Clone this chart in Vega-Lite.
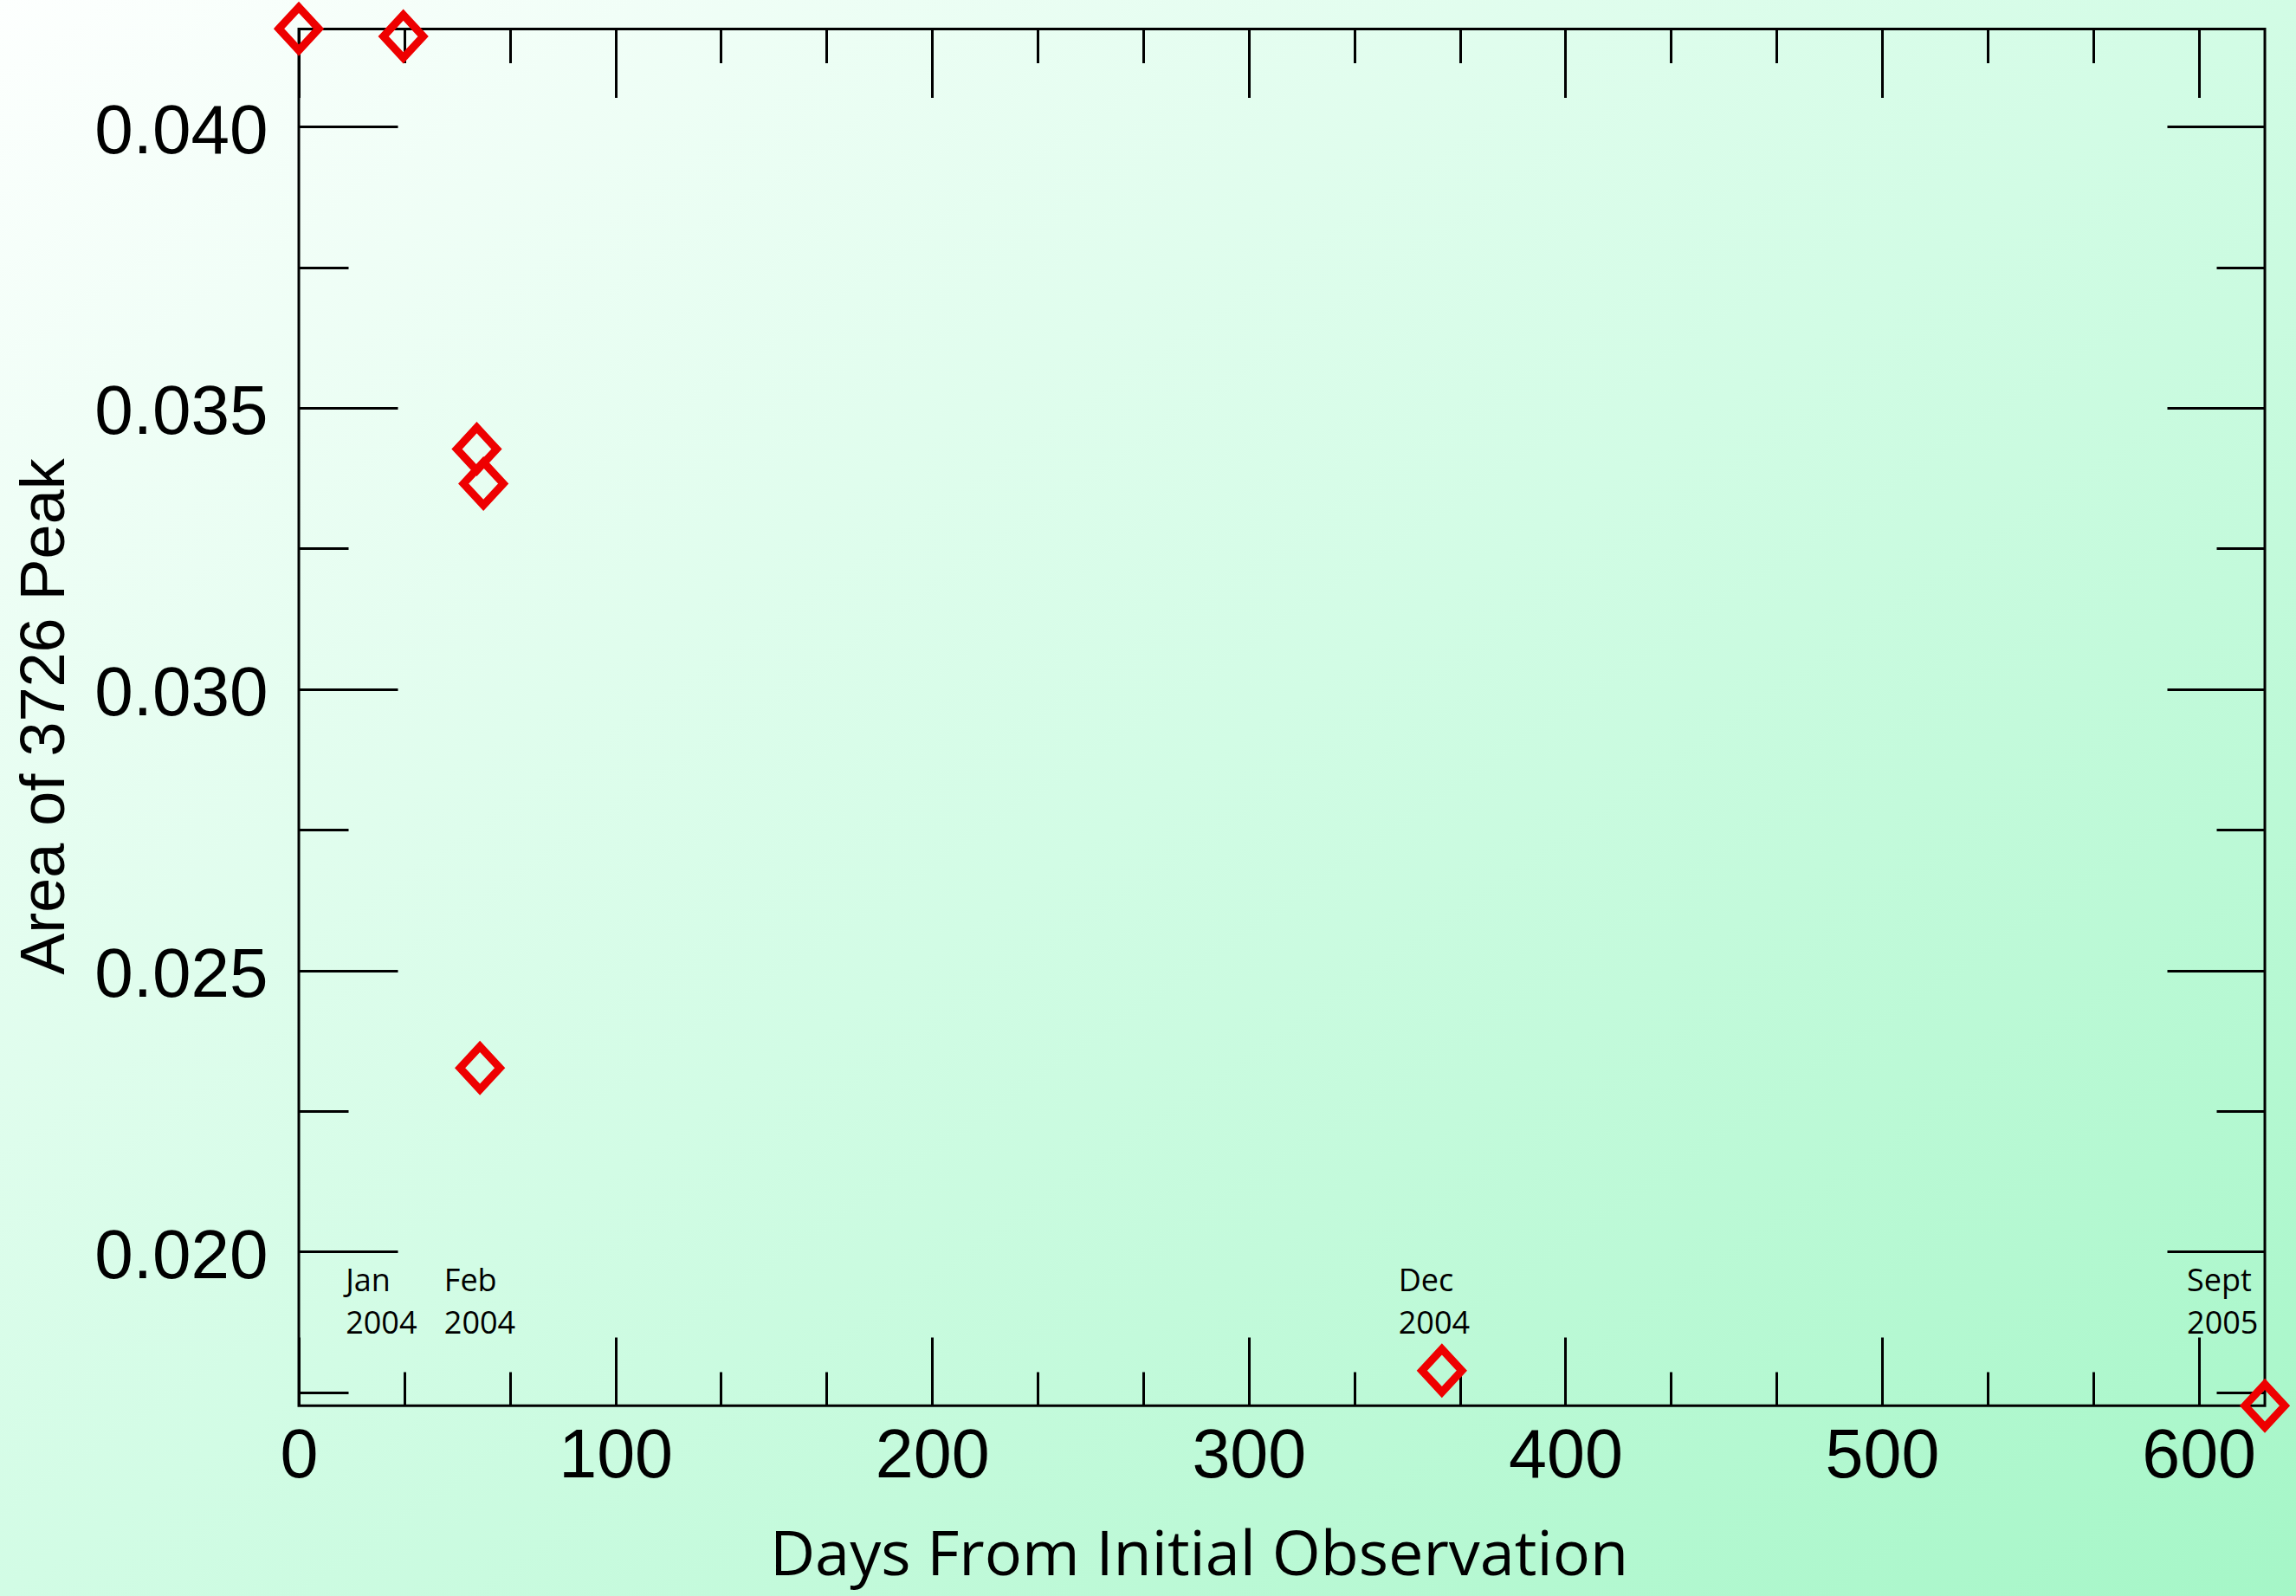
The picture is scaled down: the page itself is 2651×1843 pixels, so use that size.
{
  "$schema": "https://vega.github.io/schema/vega-lite/v6.json",
  "width": 2651,
  "height": 1843,
  "autosize": "none",
  "padding": 0,
  "background": "#d2fce5",
  "view": {
    "stroke": null,
    "fill": {
      "gradient": "linear",
      "x1": 0, "y1": 0, "x2": 1, "y2": 1,
      "stops": [
        {"offset": 0, "color": "#fdfffe"},
        {"offset": 0.5, "color": "#d2fce5"},
        {"offset": 1, "color": "#a5f6c7"}
      ]
    }
  },
  "datasets": {
    "obs": [
      {"day": 0, "area": 0.04174},
      {"day": 33.0, "area": 0.041603},
      {"day": 56.2, "area": 0.034267},
      {"day": 58.3, "area": 0.033652},
      {"day": 57.2, "area": 0.023264},
      {"day": 361.0, "area": 0.017883},
      {"day": 620.9, "area": 0.01726}
    ],
    "months": [
      {"day": 14.8, "area": 0.019295, "label": "Jan 2004"},
      {"day": 45.9, "area": 0.019295, "label": "Feb 2004"},
      {"day": 347.3, "area": 0.019295, "label": "Dec 2004"},
      {"day": 596.3, "area": 0.019295, "label": "Sept 2005"}
    ]
  },
  "resolve": {"axis": {"x": "independent", "y": "independent"}},
  "layer": [
    {
      "data": {"values": [{"x0": 0, "x1": 620.9, "y0": 0.01726, "y1": 0.041735}]},
      "mark": {"type": "rect", "fill": null, "fillOpacity": 0, "stroke": "#000000", "strokeWidth": 3},
      "encoding": {
        "x": {"field": "x0", "type": "quantitative", "axis": null,
              "scale": {"domain": [-94.37, 630.74], "nice": false, "zero": false}},
        "x2": {"field": "x1"},
        "y": {"field": "y0", "type": "quantitative", "axis": null,
              "scale": {"domain": [0.0138773, 0.0422508], "nice": false, "zero": false}},
        "y2": {"field": "y1"}
      }
    },
    {
      "data": {"name": "months"},
      "mark": {"type": "text", "align": "left", "baseline": "alphabetic", "lineBreak": " ", "lineHeight": 49,
               "font": "Open Sans", "fontSize": 36, "color": "#000000"},
      "encoding": {
        "x": {"field": "day", "type": "quantitative",
              "scale": {"domain": [-94.37, 630.74], "nice": false, "zero": false},
              "axis": {
                "orient": "top", "offset": -33.5, "domain": false, "labels": false, "grid": false, "title": null,
                "values": [0, 33.333, 66.667, 100, 133.333, 166.667, 200, 233.333, 266.667, 300, 333.333, 366.667, 400, 433.333, 466.667, 500, 533.333, 566.667, 600],
                "ticks": true, "tickColor": "#000000", "tickWidth": 3,
                "tickSize": {"condition": {"test": "round(datum.value) % 100 === 0", "value": -79}, "value": -39}
              }},
        "y": {"field": "area", "type": "quantitative",
              "scale": {"domain": [0.0138773, 0.0422508], "nice": false, "zero": false},
              "axis": {
                "orient": "right", "offset": -36, "domain": false, "labels": false, "grid": false, "title": null,
                "values": [0.0175, 0.02, 0.0225, 0.025, 0.0275, 0.03, 0.0325, 0.035, 0.0375, 0.04],
                "ticks": true, "tickColor": "#000000", "tickWidth": 3,
                "tickSize": {"condition": {"test": "round(datum.value * 2000) % 10 === 0", "value": -113}, "value": -56}
              }},
        "text": {"field": "label", "type": "nominal"}
      }
    },
    {
      "data": {"name": "obs"},
      "mark": {"type": "point", "filled": false, "color": "#ee0000", "opacity": 1, "strokeWidth": 9,
               "size": 2116, "shape": "M-1,0L0,-1.08L1,0L0,1.08Z", "strokeJoin": "miter", "clip": false},
      "encoding": {
        "x": {"field": "day", "type": "quantitative",
              "scale": {"domain": [-94.37, 630.74], "nice": false, "zero": false},
              "axis": {
                "orient": "bottom", "offset": -220, "domain": false, "grid": false,
                "values": [0, 33.333, 66.667, 100, 133.333, 166.667, 200, 233.333, 266.667, 300, 333.333, 366.667, 400, 433.333, 466.667, 500, 533.333, 566.667, 600],
                "ticks": true, "tickColor": "#000000", "tickWidth": 3,
                "tickSize": {"condition": {"test": "round(datum.value) % 100 === 0", "value": -79}, "value": -39},
                "labelExpr": "round(datum.value) % 100 === 0 ? format(datum.value, 'd') : ''",
                "labelFont": "Liberation Sans", "labelFontSize": 79, "labelColor": "#000000",
                "labelPadding": 99, "labelOverlap": false, "labelFlush": false, "labelBound": false, "labelLimit": 0,
                "title": "Days From Initial Observation",
                "titleFont": "Open Sans", "titleFontSize": 72, "titleFontWeight": "normal", "titleColor": "#000000",
                "titleX": 1384, "titleY": 195, "titleAlign": "center", "titleBaseline": "alphabetic", "titleAnchor": null, "titleLimit": 0
              }},
        "y": {"field": "area", "type": "quantitative",
              "scale": {"domain": [0.0138773, 0.0422508], "nice": false, "zero": false},
              "axis": {
                "orient": "left", "offset": -345, "domain": false, "grid": false,
                "values": [0.0175, 0.02, 0.0225, 0.025, 0.0275, 0.03, 0.0325, 0.035, 0.0375, 0.04],
                "ticks": true, "tickColor": "#000000", "tickWidth": 3,
                "tickSize": {"condition": {"test": "round(datum.value * 2000) % 10 === 0", "value": -114}, "value": -57},
                "labelExpr": "round(datum.value * 2000) % 10 === 0 ? format(datum.value, '.3f') : ''",
                "labelFont": "Liberation Sans", "labelFontSize": 80, "labelColor": "#000000",
                "labelPadding": 150, "labelOffset": 6, "labelOverlap": false, "labelFlush": false, "labelBound": false, "labelLimit": 0,
                "title": "Area of 3726 Peak",
                "titleFont": "Liberation Sans", "titleFontSize": 72, "titleFontWeight": "normal", "titleColor": "#000000",
                "titleX": -272, "titleY": 827, "titleAngle": 270, "titleAlign": "center", "titleBaseline": "alphabetic", "titleAnchor": null, "titleLimit": 0
              }}
      }
    }
  ]
}
